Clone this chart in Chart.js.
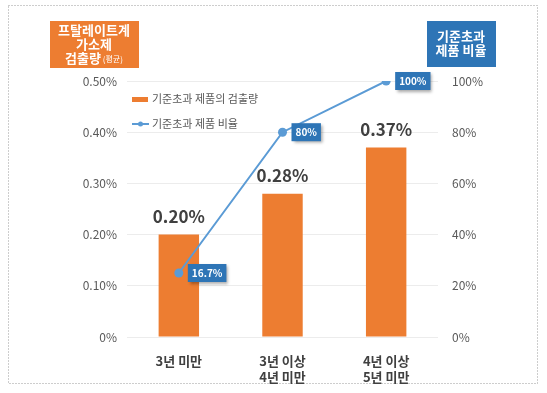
<!DOCTYPE html>
<html>
<head>
<meta charset="utf-8">
<script src="https://cdn.jsdelivr.net/npm/chart.js@4"></script>
<style>
html, body { margin: 0; padding: 0; background: #fff; }
#wrap { width: 547px; height: 393px; }
</style>
</head>
<body>
<div id="wrap"><canvas id="myChart" width="547" height="393"></canvas></div>
<script>
const categories = [['3년 미만'], ['3년 이상', '4년 미만'], ['4년 이상', '5년 미만']];
const amounts = [0.20, 0.28, 0.37];
const amountLabels = ['0.20%', '0.28%', '0.37%'];
const rates = [25, 80, 100];
const rateLabels = ['16.7%', '80%', '100%'];
const legendNames = ['기준초과 제품의 검출량', '기준초과 제품 비율'];
const leftTitle = ['프탈레이트계', '가소제', '검출량'];
const rightTitle = ['기준초과', '제품 비율'];

const FONT = '"Noto Sans CJK KR", "Noto Sans", sans-serif';
const ORANGE = '#ED7D31';
const BLUE_BOX = '#2E75B6';
const BLUE_LINE = '#5B9BD5';

const framePlugin = {
    id: 'frame',
    beforeDraw(chart) {
        const ctx = chart.ctx;
        ctx.save();
        ctx.fillStyle = '#fff';
        ctx.fillRect(0, 0, chart.width, chart.height);
        ctx.strokeStyle = '#9a9a9a';
        ctx.lineWidth = 1;
        ctx.setLineDash([1, 2]);
        ctx.strokeRect(8.5, 5.5, 529, 378);
        ctx.restore();
    }
};

const labelPlugin = {
    id: 'labels',
    afterDatasetsDraw(chart) {
        const ctx = chart.ctx;
        ctx.save();
        // bar values
        const bars = chart.getDatasetMeta(0).data;
        ctx.font = 'bold 17px ' + FONT;
        ctx.fillStyle = '#404040';
        ctx.textAlign = 'center';
        ctx.textBaseline = 'middle';
        bars.forEach((bar, i) => {
            ctx.fillText(amountLabels[i], bar.x, bar.y - 18);
        });
        // line value boxes
        const pts = chart.getDatasetMeta(1).data;
        ctx.font = 'bold 10px ' + FONT;
        pts.forEach((p, i) => {
            const w = ctx.measureText(rateLabels[i]).width + 8;
            const h = 18;
            const x = p.x + 9;
            const y = p.y - h / 2;
            ctx.save();
            ctx.shadowColor = 'rgba(0,0,0,0.35)';
            ctx.shadowOffsetX = 2;
            ctx.shadowOffsetY = 2;
            ctx.shadowBlur = 3;
            ctx.fillStyle = BLUE_BOX;
            ctx.fillRect(x, y, w, h);
            ctx.restore();
            ctx.fillStyle = '#fff';
            ctx.textAlign = 'center';
            ctx.fillText(rateLabels[i], x + w / 2, p.y + 0.5);
        });
        ctx.restore();
    }
};

const decorPlugin = {
    id: 'decor',
    afterDraw(chart) {
        const ctx = chart.ctx;
        ctx.save();
        // left axis title box
        ctx.fillStyle = ORANGE;
        ctx.fillRect(50, 21, 89, 47);
        ctx.fillStyle = '#fff';
        ctx.textAlign = 'center';
        ctx.textBaseline = 'middle';
        ctx.font = 'bold 13px ' + FONT;
        ctx.fillText(leftTitle[0], 94, 30);
        ctx.fillText(leftTitle[1], 94, 44);
        ctx.textAlign = 'left';
        const w1 = ctx.measureText(leftTitle[2]).width;
        ctx.font = '8px ' + FONT;
        const w2 = ctx.measureText(' (평균)').width;
        const sx = 94 - (w1 + w2) / 2;
        ctx.font = 'bold 13px ' + FONT;
        ctx.fillText(leftTitle[2], sx, 58);
        ctx.font = '8px ' + FONT;
        ctx.fillText(' (평균)', sx + w1, 59);

        // right axis title box
        ctx.fillStyle = BLUE_BOX;
        ctx.fillRect(427, 21, 69, 46);
        ctx.fillStyle = '#fff';
        ctx.textAlign = 'center';
        ctx.font = 'bold 13px ' + FONT;
        ctx.fillText(rightTitle[0], 461, 36);
        ctx.fillText(rightTitle[1], 461, 50);

        // legend
        ctx.fillStyle = ORANGE;
        ctx.fillRect(132, 97, 16, 5);
        ctx.strokeStyle = BLUE_LINE;
        ctx.lineWidth = 2;
        ctx.beginPath();
        ctx.moveTo(132, 124);
        ctx.lineTo(149, 124);
        ctx.stroke();
        ctx.fillStyle = BLUE_LINE;
        ctx.beginPath();
        ctx.arc(140.5, 124, 2.5, 0, Math.PI * 2);
        ctx.fill();
        ctx.fillStyle = '#595959';
        ctx.textAlign = 'left';
        ctx.font = '11px ' + FONT;
        ctx.fillText(legendNames[0], 152, 99);
        ctx.fillText(legendNames[1], 152, 124);
        ctx.restore();
    }
};

const data = {
    labels: categories,
    datasets: [{
        type: 'bar',
        label: legendNames[0],
        data: amounts,
        backgroundColor: ORANGE,
        yAxisID: 'y',
        categoryPercentage: 1,
        barPercentage: 0.39,
        order: 2
    }, {
        type: 'line',
        label: legendNames[1],
        data: rates,
        borderColor: BLUE_LINE,
        backgroundColor: BLUE_LINE,
        borderWidth: 2,
        pointRadius: 4.5,
        pointBorderWidth: 0,
        yAxisID: 'y2',
        order: 1
    }]
};

const config = {
    type: 'bar',
    data: data,
    plugins: [framePlugin, labelPlugin, decorPlugin],
    options: {
        responsive: false,
        animation: false,
        layout: { padding: { top: 81, left: 0, right: 0, bottom: 0 } },
        plugins: {
            legend: { display: false },
            tooltip: { enabled: false }
        },
        scales: {
            x: {
                grid: { display: false },
                border: { display: false },
                ticks: {
                    color: '#404040',
                    padding: 8,
                    font: { family: FONT, size: 13, weight: 'bold', lineHeight: 1.25 }
                },
                afterFit(scale) { scale.height = 56; }
            },
            y: {
                position: 'left',
                min: 0,
                max: 0.5,
                grid: { color: '#ececec', drawTicks: false },
                border: { display: false },
                ticks: {
                    stepSize: 0.1,
                    padding: 10,
                    color: '#595959',
                    font: { family: FONT, size: 12 },
                    callback: (v) => v === 0 ? '0%' : v.toFixed(2) + '%'
                },
                afterFit(scale) { scale.width = 127; }
            },
            y2: {
                position: 'right',
                min: 0,
                max: 100,
                grid: { display: false, drawTicks: false },
                border: { display: false },
                ticks: {
                    stepSize: 20,
                    padding: 14,
                    color: '#595959',
                    font: { family: FONT, size: 12 },
                    callback: (v) => v + '%'
                },
                afterFit(scale) { scale.width = 109; }
            }
        }
    }
};

const myChart = new Chart(document.getElementById('myChart'), config);
</script>
</body>
</html>
